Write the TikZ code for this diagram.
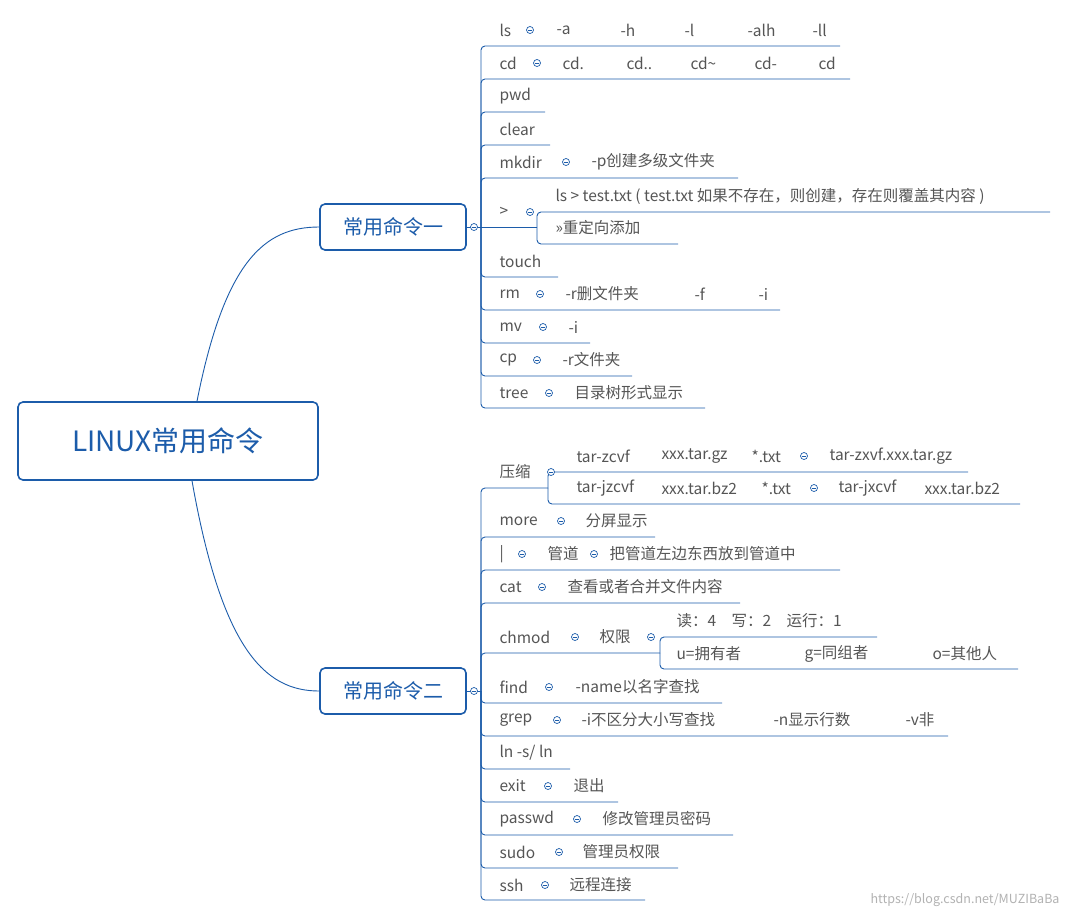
\documentclass[tikz,border=0pt]{standalone}
\usepackage{fontspec}
\setmainfont{Noto Sans CJK SC}
\usetikzlibrary{positioning,calc}
\definecolor{mapblue}{RGB}{28,92,170}
\definecolor{txtgray}{RGB}{85,85,85}
\begin{document}
\begin{tikzpicture}[
  x=1pt, y=-1pt, line width=1pt,
  branch/.style={draw=mapblue, line width=0.9pt, rounded corners=4pt},
  item/.style={anchor=west, inner sep=0pt, text=txtgray, font=\fontsize{15.5}{17}\selectfont},
  knob/.style={circle, draw=mapblue, fill=white, line width=0.7pt, inner sep=0pt, minimum size=7pt,
    path picture={\draw[mapblue, line width=0.7pt] ([xshift=1.6pt]path picture bounding box.west) -- ([xshift=-1.6pt]path picture bounding box.east);}},
  topic/.style={rectangle, draw=mapblue, line width=1.6pt, rounded corners=5pt, fill=white, text=mapblue}
]
\useasboundingbox[fill=white] (0,0) rectangle (1067,916);

% central topic and main branches
\node[topic, minimum width=300pt, minimum height=78pt, font=\fontsize{28}{32}\selectfont] (main) at (168,441) {LINUX常用命令};
\node[topic, minimum width=146pt, minimum height=46pt, font=\fontsize{20}{24}\selectfont] (n1) at (393,227) {常用命令一};
\node[topic, minimum width=146pt, minimum height=46pt, font=\fontsize{20}{24}\selectfont] (n2) at (393,691) {常用命令二};
\draw[branch] (main.north -| 197,0) .. controls (225,260) and (265,227) .. (n1.west);
\draw[branch] (main.south -| 192,0) .. controls (222,650) and (265,691) .. (n2.west);

\coordinate (b1) at (481,227);
\coordinate (b2) at (481,691);
\coordinate (s1) at (537,227);
\coordinate (s2) at (548,488);
\coordinate (s3) at (660,653);
\draw[branch] (n1.east) -- (b1);
\draw[branch] (n2.east) -- (b2);

% first group
\foreach \y/\e in {46/840,79/850,112/545,145/550,178/738,277/558,310/780,343/590,376/632,408/705}
  \draw[branch] (b1) |- (\e,\y);
\draw[branch] (b1) -- (s1);
\foreach \y/\e in {212/1050,244/678}
  \draw[branch] (s1) |- (\e,\y);

% second group
\foreach \y/\e in {537/655,570/840,603/740,703/722,736/948,769/570,802/618,835/733,868/678,900/645}
  \draw[branch] (b2) |- (\e,\y);
\draw[branch] (b2) |- (s2);
\draw[branch] (b2) |- (s3);
\foreach \y/\e in {472/968,504/1020}
  \draw[branch] (s2) |- (\e,\y);
\foreach \y/\e in {637/877,669/1018}
  \draw[branch] (s3) |- (\e,\y);

\node[knob] (k1) at (474,227) {};
\node[knob] (k2) at (474,691) {};

% rows of the first group
\node[item] (ls) at (499,30) {ls};
\node[knob] at (530,30) {};
\foreach \x/\t in {556/-a,620/-h,684/-l,747/-alh,812/-ll}
  \node[item] at (\x,30) {\t};
\node[item] (cd) at (499,63) {cd};
\node[knob] at (537,63) {};
\foreach \x/\t in {562/cd.,626/cd..,690/cd\textasciitilde,754/cd-,818/cd}
  \node[item] at (\x,63) {\t};
\node[item] (pwd) at (499,96) {pwd};
\node[item] (clear) at (499,129) {clear};
\node[item] (mkdir) at (499,162) {mkdir};
\node[knob] at (566,162) {};
\node[item] at (591,162) {-p创建多级文件夹};
\node[item] (redir) at (499,212) {>};
\node[knob] at (530,212) {};
\node[item] at (555,196) {ls > test.txt ( test.txt 如果不存在，则创建，存在则覆盖其内容 )};
\node[item] at (555,228) {>>重定向添加};
\node[item] (touch) at (499,261) {touch};
\node[item] (rm) at (499,294) {rm};
\node[knob] at (540,294) {};
\foreach \x/\t in {565/-r删文件夹,694/-f,758/-i}
  \node[item] at (\x,294) {\t};
\node[item] (mv) at (499,327) {mv};
\node[knob] at (543,327) {};
\node[item] at (568,327) {-i};
\node[item] (cp) at (499,360) {cp};
\node[knob] at (537,360) {};
\node[item] at (562,360) {-r文件夹};
\node[item] (tree) at (499,393) {tree};
\node[knob] at (549,393) {};
\node[item] at (574,393) {目录树形式显示};

% rows of the second group
\node[item] (zip) at (499,472) {压缩};
\node[knob] at (551,472) {};
\foreach \x/\t in {576/tar-zcvf,661/xxx.tar.gz,751/*.txt,829/tar-zxvf.xxx.tar.gz}
  \node[item] at (\x,456) {\t};
\node[knob] at (804,456) {};
\foreach \x/\t in {576/tar-jzcvf,661/xxx.tar.bz2,761/*.txt,838/tar-jxcvf,924/xxx.tar.bz2}
  \node[item] at (\x,488) {\t};
\node[knob] at (814,488) {};
\node[item] (more) at (499,521) {more};
\node[knob] at (561,521) {};
\node[item] at (585,521) {分屏显示};
\node[item] (pipe) at (499,554) {|};
\node[knob] at (522,554) {};
\node[item] at (547,554) {管道};
\node[knob] at (594,554) {};
\node[item] at (609,554) {把管道左边东西放到管道中};
\node[item] (cat) at (499,587) {cat};
\node[knob] at (542,587) {};
\node[item] at (567,587) {查看或者合并文件内容};
\node[item] (chmod) at (499,637) {chmod};
\node[knob] at (575,637) {};
\node[item] at (599,637) {权限};
\node[knob] at (651,637) {};
\node[item] at (676,621) {读：4\quad 写：2\quad 运行：1};
\foreach \x/\t in {676/u=拥有者,804/g=同组者,932/o=其他人}
  \node[item] at (\x,654) {\t};
\node[item] (find) at (499,687) {find};
\node[knob] at (549,687) {};
\node[item] at (575,687) {-name以名字查找};
\node[item] (grep) at (499,720) {grep};
\node[knob] at (557,720) {};
\foreach \x/\t in {581/-i不区分大小写查找,773/-n显示行数,905/-v非}
  \node[item] at (\x,720) {\t};
\node[item] (ln) at (499,753) {ln -s/ ln};
\node[item] (exit) at (499,786) {exit};
\node[knob] at (548,786) {};
\node[item] at (573,786) {退出};
\node[item] (passwd) at (499,819) {passwd};
\node[knob] at (577,819) {};
\node[item] at (602,819) {修改管理员密码};
\node[item] (sudo) at (499,852) {sudo};
\node[knob] at (559,852) {};
\node[item] at (582,852) {管理员权限};
\node[item] (ssh) at (499,885) {ssh};
\node[knob] at (545,885) {};
\node[item] at (569,885) {远程连接};

\node[anchor=east, inner sep=0pt, text=black!30, font=\fontsize{12.5}{14}\selectfont] (mark) at (1060,900) {https://blog.csdn.net/MUZIBaBa};
\end{tikzpicture}
\end{document}
